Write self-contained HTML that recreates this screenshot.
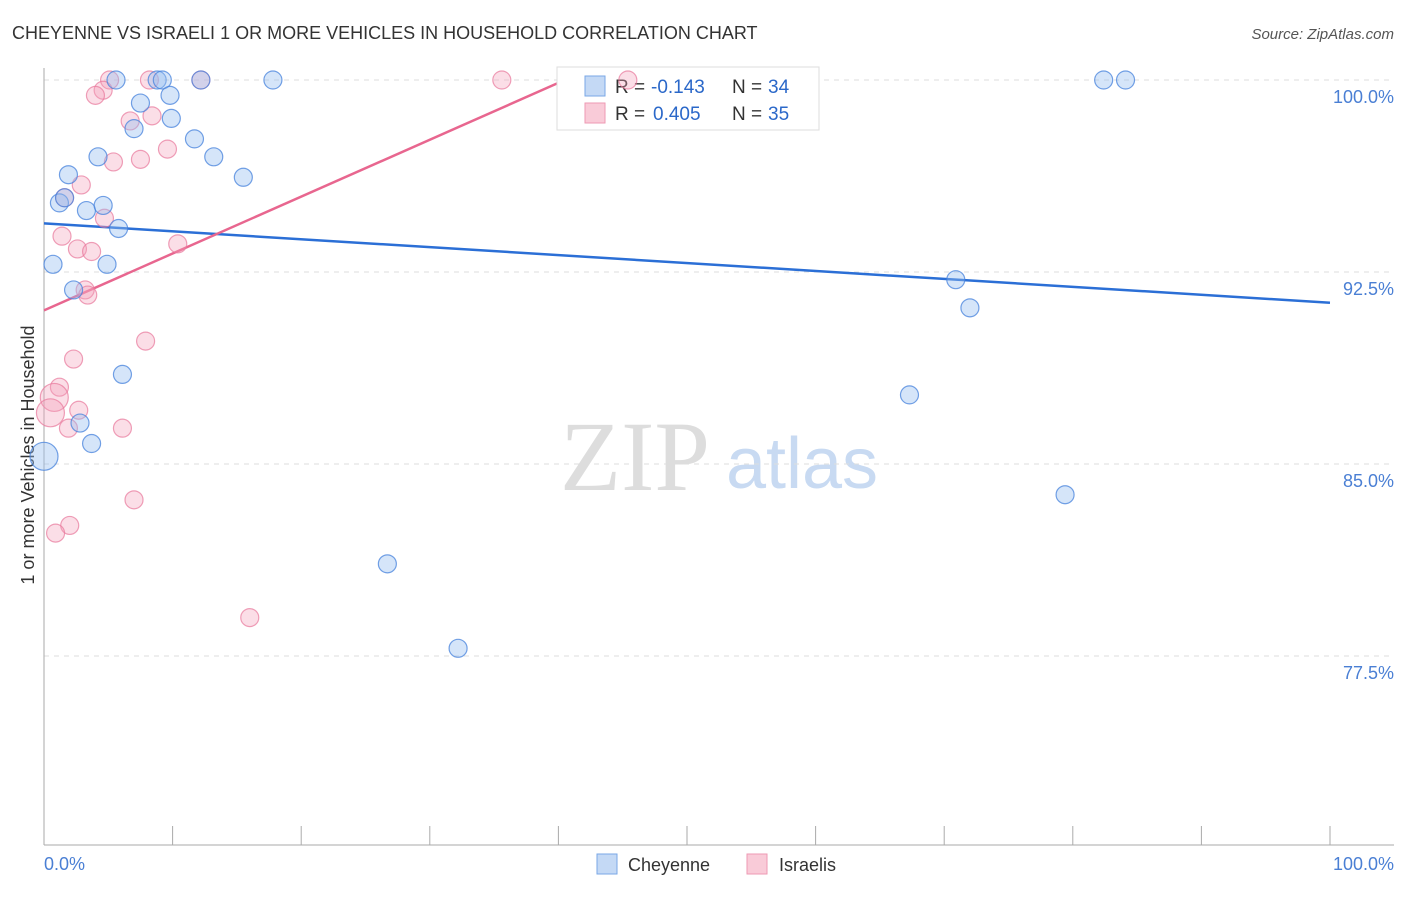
<!DOCTYPE html>
<html><head><meta charset="utf-8"><style>
body{margin:0;background:#fff;font-family:"Liberation Sans",sans-serif;}
</style></head><body>
<svg id="c" width="1406" height="892" font-family="Liberation Sans, sans-serif">
<text x="12" y="39" font-size="18" fill="#333">CHEYENNE VS ISRAELI 1 OR MORE VEHICLES IN HOUSEHOLD CORRELATION CHART</text>
<text x="1394" y="39" font-size="15" fill="#555" font-style="italic" text-anchor="end">Source: ZipAtlas.com</text>
<text x="34" y="455" font-size="18" fill="#333" text-anchor="middle" transform="rotate(-90 34 455)">1 or more Vehicles in Household</text>
<g><text x="635" y="490" font-size="100" fill="#ddd" text-anchor="middle" style="font-family:'Liberation Serif',serif">ZIP</text><text x="802" y="488" font-size="72" fill="#c8daf2" text-anchor="middle">atlas</text></g>
<g id="grid"></g><g id="lines"></g>
<g>
<rect x="557" y="67" width="262" height="63" fill="#fff" stroke="#ddd"/>
<rect x="585" y="76" width="20" height="20" fill="#c4d9f5" stroke="#7aa7e6"/>
<rect x="585" y="103" width="20" height="20" fill="#f9cbd8" stroke="#ee9ab3"/>
<text x="615" y="93" font-size="19" fill="#333">R =</text><text x="651" y="93" font-size="19" fill="#2b68c9">-0.143</text>
<text x="732" y="93" font-size="19" fill="#333">N =</text><text x="768" y="93" font-size="19" fill="#2b68c9">34</text>
<text x="615" y="120" font-size="19" fill="#333">R =</text><text x="653" y="120" font-size="19" fill="#2b68c9">0.405</text>
<text x="732" y="120" font-size="19" fill="#333">N =</text><text x="768" y="120" font-size="19" fill="#2b68c9">35</text>
</g>
<g id="pts"></g>
<g>
<rect x="597" y="854" width="20" height="20" fill="#c4d9f5" stroke="#7aa7e6"/><text x="628" y="871" font-size="18" fill="#333">Cheyenne</text>
<rect x="747" y="854" width="20" height="20" fill="#f9cbd8" stroke="#ee9ab3"/><text x="779" y="871" font-size="18" fill="#333">Israelis</text>
</g>
<text x="44" y="870" font-size="18" fill="#4a7fd4">0.0%</text>
<text x="1394" y="870" font-size="18" fill="#4a7fd4" text-anchor="end">100.0%</text>
</svg>
<script>
const yTicks=[100,92.5,85,77.5];
const yTickLabels=["100.0%","92.5%","85.0%","77.5%"];
const blueX=[5.6,8.8,9.2,17.8,82.4,84.1,7.5,9.8,7.0,9.9,11.7,13.2,4.2,15.5,1.9,1.2,3.3,4.6,1.6,5.8,0.7,4.9,2.3,70.9,72.0,6.1,67.3,2.8,3.7,0.0,79.4,26.7,32.2,12.2];
const blueY=[100,100,100,100,100,100,99.1,99.4,98.1,98.5,97.7,97.0,97.0,96.2,96.3,95.2,94.9,95.1,95.4,94.2,92.8,92.8,91.8,92.2,91.1,88.5,87.7,86.6,85.8,85.3,83.8,81.1,77.8,100];
const pinkX=[5.1,8.2,12.2,35.6,45.4,4.6,4.0,6.7,8.4,5.4,7.5,9.6,2.9,1.6,4.7,1.4,2.6,3.7,10.4,3.2,3.4,7.9,2.3,1.2,0.8,0.5,2.7,1.9,6.1,7.0,2.0,0.9,16.0];
const pinkY=[100,100,100,100,100,99.6,99.4,98.4,98.6,96.8,96.9,97.3,95.9,95.4,94.6,93.9,93.4,93.3,93.6,91.8,91.6,89.8,89.1,88.0,87.6,87.0,87.1,86.4,86.4,83.6,82.6,82.3,79.0];
const blueTrend=[94.4,91.3];
const pinkTrend=[91.0,100.0,40.5];
const X=v=>44+v/100*1286, Y=v=>80+(100-v)/7.5*192;
const NS="http://www.w3.org/2000/svg";
function mk(t,a,p){const e=document.createElementNS(NS,t);for(const k in a)e.setAttribute(k,a[k]);p.appendChild(e);return e;}
const grid=document.getElementById('grid');
yTicks.forEach((t,i)=>{
 const l=mk('line',{x1:44,x2:1394,y1:Y(t),y2:Y(t),stroke:'#ddd','stroke-dasharray':'5,5'},grid);
 
 
 const tx=mk('text',{x:1394,y:Y(t)+23,'font-size':18,fill:'#4a7fd4','text-anchor':'end'},grid);tx.textContent=yTickLabels[i];
 
 
});
const ax=mk('line',{x1:44,x2:44,y1:68,y2:845,stroke:'#aaa'},grid);


const bx=mk('line',{x1:44,x2:1394,y1:845,y2:845,stroke:'#aaa'},grid);


for(let i=0;i<=10;i++){const t=mk('line',{x1:X(i*10),x2:X(i*10),y1:826,y2:845,stroke:'#aaa'},grid);
 
 }
const pts=document.getElementById('pts');
pinkX.forEach((v,i)=>{const c=mk('circle',{cx:X(v),cy:Y(pinkY[i]),r:(i===24||i===25)?14:9,fill:'rgba(244,160,185,0.35)',stroke:'rgba(232,120,155,0.7)','stroke-width':1.2},pts);
 
 });
blueX.forEach((v,i)=>{const c=mk('circle',{cx:X(v),cy:Y(blueY[i]),r:v===0?14:9,fill:'rgba(150,190,240,0.4)',stroke:'rgba(70,130,220,0.75)','stroke-width':1.2},pts);
 
 });
const lines=document.getElementById('lines');
const b=mk('line',{x1:X(0),y1:Y(blueTrend[0]),x2:X(100),y2:Y(blueTrend[1]),stroke:'#2b6fd6','stroke-width':2.5},lines);


const p=mk('line',{x1:X(0),y1:Y(pinkTrend[0]),x2:X(pinkTrend[2]),y2:Y(pinkTrend[1]),stroke:'#e8668f','stroke-width':2.5},lines);


</script>
</body></html>
